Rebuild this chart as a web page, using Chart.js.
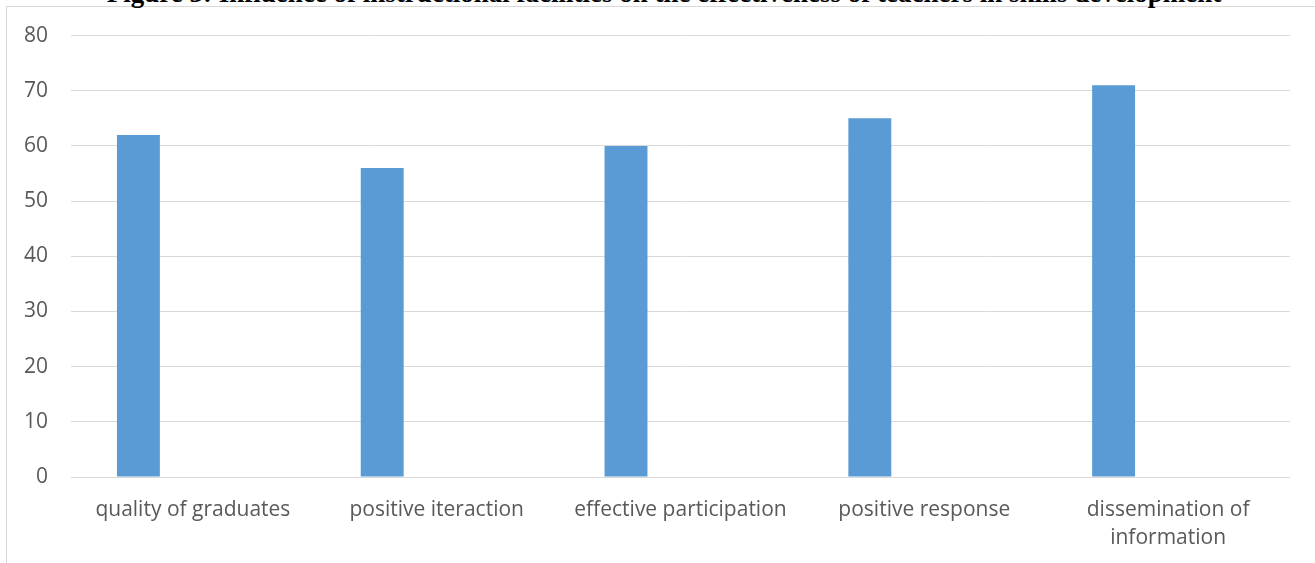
<!DOCTYPE html>
<html>
<head>
<meta charset="utf-8">
<script src="https://cdn.jsdelivr.net/npm/chart.js@4/dist/chart.umd.min.js"></script>
<style>
  html, body { margin: 0; padding: 0; background: #ffffff; }
  #wrap { position: relative; width: 1315px; height: 563px; overflow: hidden; }
  #frame {
    position: absolute; left: 6px; top: 6px; right: -10px; bottom: -10px;
    border-left: 1px solid #d9d9d9; border-top: 1px solid #d9d9d9;
  }
  #title {
    position: absolute; top: -20px; left: 664px; transform: translateX(-50%);
    white-space: nowrap; font-family: "Liberation Serif", "Times New Roman", serif;
    font-weight: bold; font-size: 27px; line-height: 27px; color: #000;
  }
  canvas { position: absolute; left: 0; top: 0; }
</style>
</head>
<body>
<div id="wrap">
  <div id="frame"></div>
  <div id="title">Figure 3: Influence of instructional facilities on the effectiveness of teachers in skills development</div>
  <canvas id="chart" width="1315" height="563"></canvas>
</div>
<script>
// Categories (multi-line labels wrap as in the original layout)
const categories = [
  'quality of graduates',
  'positive iteraction',
  'effective participation',
  'positive response',
  ['dissemination of', 'information']
];
// Scores for each facility outcome
const seriesValues = [62, 56, 60, 65, 71];
// Second series slot left empty in the source workbook
const emptySeries = [null, null, null, null, null];
// Value axis ticks
const yTicks = [0, 10, 20, 30, 40, 50, 60, 70, 80];

const labelFont = { family: "'Open Sans', sans-serif", size: 21 };

new Chart(document.getElementById('chart'), {
  type: 'bar',
  data: {
    labels: categories,
    datasets: [
      {
        label: 'Series1',
        data: seriesValues,
        backgroundColor: '#5b9bd5',
        borderWidth: 0,
        barPercentage: 0.394,
        categoryPercentage: 0.894
      },
      {
        label: 'Series2',
        data: emptySeries,
        backgroundColor: '#ed7d31',
        borderWidth: 0,
        barPercentage: 0.394,
        categoryPercentage: 0.894
      }
    ]
  },
  options: {
    responsive: false,
    animation: false,
    layout: { padding: { left: 7, right: 25, top: 35, bottom: 0 } },
    plugins: {
      legend: { display: false },
      tooltip: { enabled: false },
      title: { display: false }
    },
    scales: {
      x: {
        grid: { display: false, drawTicks: false },
        border: { display: false },
        ticks: {
          color: '#595959',
          font: { ...labelFont, lineHeight: 1.33 },
          padding: 19,
          maxRotation: 0,
          autoSkip: false
        },
        afterFit(scale) { scale.height = 86; }
      },
      y: {
        min: 0,
        max: 80,
        afterBuildTicks(scale) { scale.ticks = yTicks.map(v => ({ value: v })); },
        grid: { color: '#d9d9d9', lineWidth: 1, drawTicks: false },
        border: { display: false },
        ticks: {
          color: '#595959',
          font: labelFont,
          padding: 23
        },
        afterFit(scale) { scale.width = 64; }
      }
    }
  }
});
</script>
</body>
</html>
